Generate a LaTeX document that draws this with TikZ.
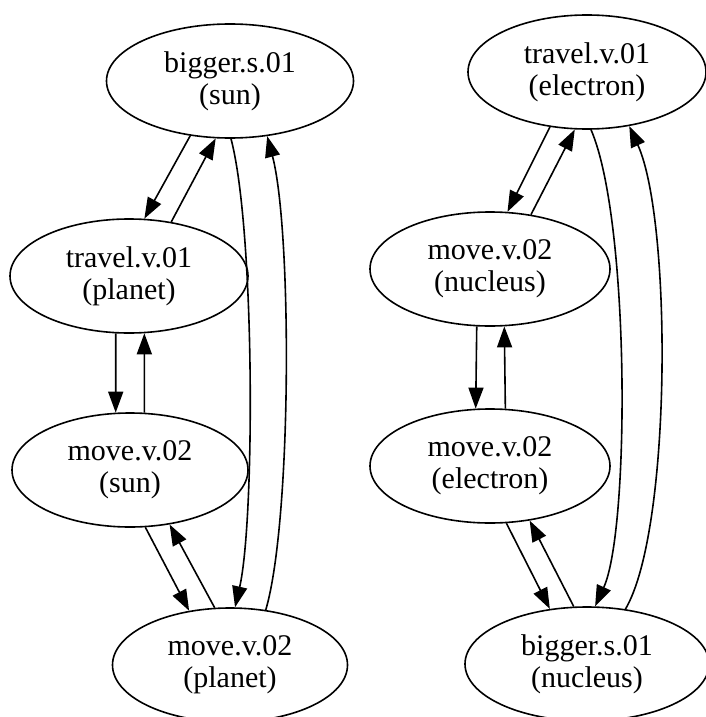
\documentclass[tikz,border=0pt]{standalone}
\usepackage{fontspec}
\setmainfont{Liberation Serif}
\usetikzlibrary{arrows.meta,shapes.geometric}

\begin{document}
\begin{tikzpicture}[x=1pt,y=-1pt,
  synset/.style={ellipse,draw,line width=1.6pt,inner sep=0pt,
    minimum height=114pt,align=center,
    font=\fontsize{30}{32}\selectfont},
  rel/.style={line width=1.6pt,-{Triangle[length=21pt,width=15pt]}}]
\fill[white] (0,0) rectangle (705,717);
\useasboundingbox (0,0) rectangle (705,717);

% solar system graph
\node[synset,minimum width=247pt] (sunbig)   at (230,81)  {bigger.s.01\\(sun)};
\node[synset,minimum width=238pt] (plantrav) at (129,276) {travel.v.01\\(planet)};
\node[synset,minimum width=236pt] (sunmove)  at (130,470) {move.v.02\\(sun)};
\node[synset,minimum width=235pt] (planmove) at (230,665) {move.v.02\\(planet)};

\draw[rel] (sunbig.-126) -- (plantrav.75);
\draw[rel] (plantrav.52) -- (sunbig.-104);
\draw[rel] (plantrav.-103) -- (sunmove.104);
\draw[rel] (sunmove.76) -- (plantrav.-75);
\draw[rel] (sunmove.-75) -- (planmove.127);
\draw[rel] (planmove.105) -- (sunmove.-54);
\draw[rel] (sunbig.-89) .. controls (255,230) and (255,520) .. (planmove.85);
\draw[rel] (planmove.57) .. controls (292,520) and (292,230) .. (sunbig.-56);

% atom graph
\node[synset,minimum width=238pt] (eltrav)  at (587,72)  {travel.v.01\\(electron)};
\node[synset,minimum width=240pt] (nucmove) at (490,269) {move.v.02\\(nucleus)};
\node[synset,minimum width=240pt] (elmove)  at (490,466) {move.v.02\\(electron)};
\node[synset,minimum width=244pt] (nucbig)  at (587,664) {bigger.s.01\\(nucleus)};

\draw[rel] (eltrav.-124) -- (nucmove.73);
\draw[rel] (nucmove.53) -- (eltrav.-102);
\draw[rel] (nucmove.-103) -- (elmove.104);
\draw[rel] (elmove.75) -- (nucmove.-76);
\draw[rel] (elmove.-74) -- (nucbig.124);
\draw[rel] (nucbig.103) -- (elmove.-54);
\draw[rel] (eltrav.-86) .. controls (630,220) and (630,530) .. (nucbig.82);
\draw[rel] (nucbig.55) .. controls (672,530) and (672,220) .. (eltrav.-52);
\end{tikzpicture}
\end{document}
